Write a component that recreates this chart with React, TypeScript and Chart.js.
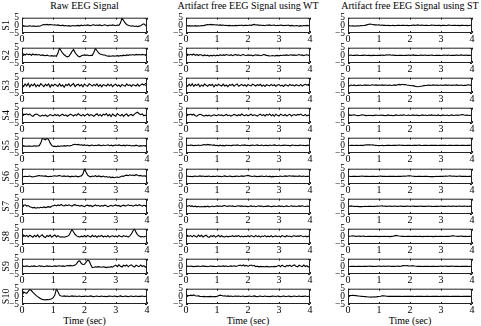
import { useEffect, useRef } from 'react';
import { Chart, registerables } from 'chart.js';

Chart.register(...registerables);

const FONT = "'Liberation Serif', 'Times New Roman', serif";

const SAMPLE_STEP = 0.05; // seconds between samples
const CHANNELS = ['S1', 'S2', 'S3', 'S4', 'S5', 'S6', 'S7', 'S8', 'S9', 'S10'];
const COLUMN_TITLES = ['Raw EEG Signal', 'Artifact free EEG Signal using WT', 'Artifact free EEG Signal using ST'];
const X_LABEL = 'Time (sec)';
const X_TICKS = [0, 1, 2, 3, 4];
const Y_TICKS = [-5, 0, 5];

// ---- Raw EEG ----
const RAW_S1 = [-0.3,-0.5,-0.4,-0.6,-0.5,-0.3,-0.6,-0.4,-0.5,-0.7,
 -0.4,-0.6,-0.3,0.2,0.5,0.4,0.6,0.3,0.5,0.4,
 0.2,0.4,0.1,0.3,0.0,-0.2,0.1,-0.3,-0.1,-0.4,
 -0.2,-0.5,-0.3,-0.1,-0.4,-0.2,0.0,-0.3,0.1,-0.2,
 0.2,-0.1,0.3,0.0,-0.2,0.2,0.4,-0.1,0.2,0.0,
 0.3,-0.2,0.1,0.4,0.0,-0.3,0.2,-0.1,0.3,0.1,
 -0.2,0.2,0.0,1.5,4.8,3.2,1.6,0.6,0.1,-0.3,
 -0.5,-0.3,-0.7,-0.4,-0.8,-0.5,-0.2,0.6,1.0,0.2,
 -1.0];
const RAW_S2 = [0.5,0.9,0.2,1.0,0.4,0.8,0.1,0.9,0.3,0.6,
 0.2,0.5,-0.1,0.3,0.0,-0.2,0.1,-0.3,-0.4,-0.2,
 -0.5,-0.3,-0.6,1.5,4.8,3.0,1.4,0.4,-0.4,-1.0,
 -0.6,0.8,2.6,3.8,1.8,0.4,-0.6,-1.0,-0.3,0.1,
 0.3,0.0,0.2,-0.2,0.1,0.0,2.0,4.5,3.0,1.6,
 0.9,0.5,0.3,0.2,-0.2,-0.5,-0.4,-0.6,-0.3,-0.5,
 -0.4,-0.2,-0.5,-0.1,-0.3,0.1,-0.2,0.3,0.0,0.4,
 0.2,0.5,0.1,0.6,0.3,0.5,0.2,0.6,0.4,0.3,
 0.5];
const RAW_S3 = [0.3,-0.8,0.9,-0.5,1.2,-1.0,0.6,-0.3,1.0,-0.9,
 0.4,-0.6,1.1,0.2,-0.8,0.7,-0.2,0.9,-1.1,0.5,
 -0.4,0.8,0.1,-0.7,1.0,-0.5,0.3,-1.2,0.6,-0.1,
 0.9,-0.6,0.4,1.1,-0.8,0.2,0.7,-0.4,0.5,-0.9,
 0.8,0.0,-0.6,1.0,0.3,-0.5,0.6,-0.2,0.9,-0.7,
 0.4,-1.0,0.5,0.1,-0.4,0.8,-0.3,0.6,-0.8,0.3,
 0.7,-0.5,0.2,-0.9,0.6,0.0,-0.6,0.9,-0.2,0.4,
 -0.7,0.5,0.1,-0.4,0.8,-0.6,0.3,0.9,0.2,1.1,
 1.6];
const RAW_S4 = [0.2,0.8,0.5,1.0,0.3,0.9,-0.2,-0.6,0.4,0.9,
 0.6,-0.3,-0.5,0.2,-0.4,0.3,-0.6,-0.2,0.5,0.1,
 -0.3,0.6,-0.1,0.4,-0.5,0.2,0.7,-0.2,0.3,-0.6,
 0.1,0.8,0.3,-0.4,0.5,-0.1,1.2,0.2,-0.3,0.6,
 -0.4,0.3,0.9,-0.2,0.5,0.0,-0.6,0.4,1.0,-0.3,
 0.6,-0.5,0.8,0.2,1.2,-0.4,0.6,-0.8,0.9,0.1,
 -0.6,1.1,0.3,-0.3,0.7,-0.7,0.4,0.9,-0.5,0.3,
 0.6,-0.2,0.8,1.6,2.1,1.0,0.4,0.9,-0.3,0.2,
 -0.5];
const RAW_S5 = [-0.3,-0.5,-0.4,-0.6,-0.5,-0.4,-0.6,-0.5,-0.3,-0.5,
 -0.4,-0.2,1.5,4.5,4.1,3.6,4.6,3.8,1.6,0.0,
 -0.7,-0.5,-0.9,-0.4,-0.7,-0.3,-0.6,-0.2,-0.5,-0.1,
 -0.4,-0.2,0.1,0.5,0.7,0.4,0.6,0.2,0.4,0.0,
 0.3,-0.1,0.2,-0.3,0.0,0.2,-0.2,0.1,-0.1,0.3,
 0.0,-0.2,0.2,-0.1,0.1,0.4,-0.2,0.1,-0.3,0.0,
 0.2,-0.1,0.3,0.0,-0.2,0.1,-0.3,0.2,-0.1,0.0,
 -0.4,-0.1,-0.3,0.1,-0.2,-0.5,-0.2,-0.4,-0.1,-0.6,
 -0.4];
const RAW_S6 = [0.0,-0.2,0.1,-0.1,0.0,0.2,-0.2,-0.4,-0.1,0.1,
 0.3,0.5,0.2,0.4,0.1,0.3,0.0,-0.2,0.1,-0.1,
 0.2,0.4,0.1,0.3,0.5,0.2,0.0,0.3,-0.1,0.2,
 0.0,-0.3,0.1,-0.2,0.2,0.0,-0.3,0.1,0.3,1.6,
 4.9,2.6,0.8,0.1,-0.3,0.2,-0.1,0.4,-0.2,0.3,
 0.0,-0.3,0.2,-0.4,-0.1,-0.6,-0.3,-0.8,-0.5,-0.9,
 -0.6,-0.4,-0.7,-0.2,0.2,0.0,0.5,0.8,0.4,1.0,
 0.6,0.9,0.5,1.1,0.7,0.3,0.6,0.1,0.4,0.2,
 0.5];
const RAW_S7 = [1.2,0.6,1.0,0.2,0.5,-0.3,-0.6,-1.0,-0.7,-1.2,
 -0.8,-1.1,-0.6,-0.9,-0.4,-0.8,-0.5,-0.2,-0.6,0.1,
 0.4,0.8,0.3,0.9,0.5,1.2,0.6,0.3,0.9,0.4,
 1.0,0.5,0.2,0.8,1.1,0.4,0.7,0.1,0.6,0.3,
 -0.2,0.5,0.8,0.2,0.6,-0.1,0.4,0.9,0.3,0.7,
 0.0,0.5,0.2,0.8,0.4,-0.2,0.3,0.7,0.1,0.5,
 0.9,0.3,0.6,-0.1,0.4,0.8,0.2,0.5,1.0,0.4,
 0.7,0.1,0.5,0.9,0.3,1.1,0.5,0.2,0.7,0.4,
 0.8];
const RAW_S8 = [0.2,0.9,0.0,0.6,-0.4,0.8,0.1,-0.6,0.7,-0.2,
 0.9,-0.5,0.3,1.0,-0.3,-0.8,0.6,-0.1,0.8,-0.6,
 0.2,0.9,-0.4,0.5,-0.2,-0.5,-0.3,-0.6,-0.2,0.0,
 0.6,2.5,4.6,2.8,1.2,0.3,-0.2,-0.4,0.1,-0.3,
 0.5,-0.4,0.6,0.0,-0.5,0.7,-0.2,0.4,-0.6,0.3,
 -0.1,0.6,-0.4,0.2,-0.3,0.5,-0.5,0.1,0.4,-0.2,
 0.3,-0.5,0.6,0.0,-0.4,0.5,-0.1,0.2,-0.5,0.3,
 1.5,3.5,4.9,2.6,0.9,0.2,-0.3,-0.1,-0.4,0.0,
 -0.3];
const RAW_S9 = [0.0,0.2,-0.1,0.3,0.1,-0.2,0.2,0.0,0.3,-0.1,
 0.1,0.4,0.0,0.2,-0.2,0.1,0.3,0.0,0.2,-0.1,
 0.1,0.3,0.0,0.2,0.4,0.1,0.3,0.0,0.2,0.5,
 0.3,0.6,0.2,0.5,0.8,1.8,3.4,3.6,1.8,1.2,
 1.4,2.8,4.0,3.5,1.0,-0.8,-0.6,-0.3,-0.5,-0.2,
 -0.4,-0.6,-0.3,-0.5,-0.8,-0.4,-0.6,-0.2,-0.5,0.3,
 0.8,-0.2,1.0,0.1,-0.4,0.7,0.2,0.9,-0.3,0.6,
 1.0,0.0,-0.5,0.8,0.3,-0.2,0.9,-0.1,0.5,-0.6,
 0.6];
const RAW_S10 = [0.0,2.8,2.4,2.0,3.2,4.5,3.8,2.6,1.6,0.6,
 -0.2,-0.9,-1.6,-2.0,-2.2,-2.3,-2.1,-2.2,-1.9,-1.6,
 -0.9,0.8,4.9,3.0,0.8,0.2,0.1,0.3,0.0,0.2,
 -0.1,0.1,0.3,0.0,0.2,-0.1,0.1,0.2,-0.2,0.1,
 0.0,0.2,-0.1,0.1,0.3,0.0,-0.2,0.1,0.2,-0.1,
 0.0,0.2,-0.1,0.1,-0.2,0.0,0.2,0.1,-0.1,0.2,
 0.0,-0.2,0.1,0.3,0.0,-0.1,0.2,0.0,-0.2,0.1,
 0.2,-0.1,0.0,0.2,-0.1,0.1,0.0,0.2,-0.1,0.1,
 0.0];

// ---- Wavelet-cleaned EEG ----
const WT_S1 = [-0.3,-0.4,-0.2,-0.5,-0.3,-0.4,-0.2,-0.5,-0.3,-0.4,
 -0.2,-0.3,0.0,0.3,0.5,0.4,0.6,0.3,0.5,0.2,
 0.4,0.1,0.3,0.0,0.2,-0.1,0.1,-0.2,0.0,-0.3,
 -0.1,-0.3,0.0,-0.2,0.1,-0.1,0.2,-0.2,0.0,0.1,
 -0.1,0.2,0.0,0.3,0.6,0.2,0.4,0.0,0.2,-0.1,
 0.1,-0.2,0.2,0.0,0.3,-0.1,0.1,0.2,-0.2,0.1,
 -0.1,0.2,0.0,-0.2,0.1,-0.1,0.2,-0.3,0.0,-0.2,
 -0.4,-0.1,-0.3,-0.5,-0.2,-0.4,-0.1,-0.3,0.0,-0.2,
 -0.1];
const WT_S2 = [0.4,0.8,0.1,0.7,0.2,0.9,0.0,0.6,-0.1,0.5,
 0.2,-0.3,0.3,-0.2,0.1,-0.5,0.0,-0.3,0.2,-0.4,
 0.1,-0.2,0.4,-0.1,0.3,0.0,0.5,0.2,-0.1,0.4,
 -0.2,0.3,0.6,0.0,0.4,-0.2,0.2,0.5,0.1,-0.1,
 0.3,0.0,0.2,-0.3,0.1,0.4,0.0,0.2,-0.2,0.1,
 0.5,0.3,0.0,-0.2,-0.4,-0.3,-0.1,-0.4,-0.2,0.0,
 -0.3,0.1,-0.1,0.2,0.0,0.3,-0.1,0.2,0.4,0.0,
 0.3,-0.1,0.2,0.5,0.1,0.3,-0.2,0.2,0.4,0.1,
 0.2];
const WT_S3 = [0.1,-0.6,0.8,-0.4,1.0,-0.7,0.5,-0.2,0.8,-0.8,
 0.3,-0.5,0.9,0.1,-0.6,0.6,-0.1,0.7,-0.9,0.4,
 -0.3,0.7,0.0,-0.5,0.8,-0.4,0.2,-0.9,0.5,0.0,
 0.7,-0.5,0.3,0.9,-0.6,0.1,0.6,-0.3,0.4,-0.7,
 0.6,0.0,-0.4,0.8,0.2,-0.4,0.5,-0.1,0.7,-0.5,
 0.3,-0.7,0.4,0.0,-0.3,0.6,-0.2,0.4,-0.6,0.2,
 0.5,-0.4,0.1,-0.7,0.4,0.0,-0.5,0.6,-0.1,0.3,
 -0.5,0.4,0.0,-0.3,0.6,-0.4,0.2,0.7,0.1,0.6,
 0.3];
const WT_S4 = [0.1,0.6,0.3,0.8,0.2,0.7,-0.2,-0.5,0.3,0.7,
 0.4,-0.2,-0.4,0.1,-0.3,0.2,-0.5,-0.1,0.4,0.0,
 -0.2,0.5,-0.1,0.3,-0.4,0.1,0.6,-0.2,0.2,-0.5,
 0.0,0.6,0.2,-0.3,0.4,-0.1,0.9,0.1,-0.2,0.5,
 -0.3,0.2,0.7,-0.2,0.4,0.0,-0.5,0.3,0.8,-0.2,
 0.5,-0.4,0.6,0.1,0.9,-0.3,0.5,-0.6,0.7,0.0,
 -0.5,0.8,0.2,-0.2,0.5,-0.5,0.3,0.7,-0.4,0.2,
 0.5,-0.2,0.6,0.3,0.8,0.1,-0.2,0.6,-0.3,0.2,
 -0.4];
const WT_S5 = [-0.2,0.1,-0.1,0.2,0.0,-0.2,0.1,-0.1,0.2,-0.1,
 0.1,0.3,0.5,0.2,0.6,0.3,0.4,0.1,0.3,-0.1,
 0.0,-0.3,0.1,-0.2,0.0,-0.3,0.2,-0.1,0.1,-0.2,
 0.0,0.2,-0.1,0.3,0.1,-0.2,0.2,0.0,0.3,-0.1,
 0.1,-0.2,0.0,0.2,-0.1,0.1,0.3,-0.1,0.0,0.2,
 -0.2,0.1,0.0,-0.2,0.2,-0.1,0.1,0.3,0.0,-0.1,
 0.2,-0.2,0.1,0.0,0.2,-0.1,0.1,-0.3,0.0,0.2,
 -0.1,0.1,-0.2,0.0,0.2,-0.1,0.1,-0.2,0.0,0.1,
 -0.1];
const WT_S6 = [0.0,0.2,-0.1,0.1,-0.2,0.0,0.2,-0.1,0.1,0.3,
 0.0,0.2,-0.1,0.1,0.0,0.2,-0.2,0.1,0.0,-0.1,
 0.2,0.0,0.1,-0.2,0.1,0.3,0.0,-0.1,0.2,0.0,
 -0.2,0.1,0.0,0.2,-0.1,0.1,0.3,0.0,0.2,0.4,
 0.6,0.3,0.1,-0.1,0.2,0.0,-0.2,0.1,0.0,0.2,
 -0.1,0.0,0.2,-0.2,0.1,-0.3,0.0,-0.2,0.1,-0.1,
 0.0,0.2,-0.1,0.1,0.3,0.0,0.2,0.4,0.1,0.3,
 0.0,0.2,-0.1,0.3,0.1,0.0,0.2,-0.1,0.1,0.0,
 0.2];
const WT_S7 = [0.4,0.1,0.5,0.0,0.3,-0.2,0.1,-0.3,0.0,-0.4,
 -0.1,-0.3,0.0,-0.2,0.1,-0.3,-0.1,0.2,-0.2,0.1,
 0.3,0.0,0.2,-0.1,0.3,0.5,0.1,0.0,0.4,0.1,
 0.3,-0.1,0.0,0.2,0.4,0.0,0.3,-0.1,0.2,0.0,
 -0.2,0.1,0.3,-0.1,0.2,-0.2,0.1,0.4,0.0,0.2,
 -0.2,0.1,0.0,0.3,0.1,-0.2,0.0,0.2,-0.1,0.1,
 0.3,0.0,0.2,-0.2,0.1,0.3,-0.1,0.1,0.4,0.0,
 0.2,-0.1,0.1,0.3,0.0,0.4,0.1,-0.1,0.2,0.0,
 0.3];
const WT_S8 = [0.2,0.7,0.0,0.5,-0.3,0.6,0.1,-0.5,0.8,-0.1,
 0.7,-0.4,0.2,0.8,-0.2,-0.6,0.5,-0.1,0.6,-0.5,
 0.1,0.7,-0.3,0.4,-0.2,-0.4,0.2,-0.3,0.1,-0.1,
 0.4,-0.2,0.3,0.0,0.5,-0.3,0.2,-0.4,0.1,-0.2,
 0.4,-0.3,0.5,0.0,-0.4,0.6,-0.2,0.3,-0.5,0.2,
 -0.1,0.5,-0.3,0.1,-0.2,0.4,-0.4,0.1,0.3,-0.2,
 0.2,-0.4,0.5,0.0,-0.3,0.4,-0.1,0.2,-0.4,0.2,
 0.4,-0.1,0.3,0.0,0.5,0.1,-0.2,0.2,-0.3,0.1,
 -0.2];
const WT_S9 = [0.0,0.2,-0.1,0.2,0.0,-0.2,0.1,0.0,0.2,-0.1,
 0.1,0.3,0.0,0.1,-0.2,0.1,0.2,0.0,0.1,-0.1,
 0.0,0.2,0.0,0.1,0.3,0.0,0.2,-0.1,0.1,0.3,
 0.1,0.4,0.0,0.2,0.5,0.8,0.3,0.9,0.2,0.7,
 0.0,0.6,0.9,0.3,0.7,-0.2,0.1,-0.3,0.0,-0.2,
 -0.1,-0.3,0.0,-0.2,-0.4,-0.1,-0.3,0.0,-0.2,0.3,
 0.7,-0.2,0.8,0.1,-0.3,0.6,0.2,0.8,-0.2,0.5,
 0.9,0.0,-0.4,0.7,0.2,-0.2,0.8,-0.1,0.4,-0.5,
 0.4];
const WT_S10 = [0.0,0.6,0.4,0.8,0.5,0.9,0.4,0.2,0.3,0.0,
 -0.1,-0.2,0.0,-0.3,-0.1,-0.2,0.0,-0.3,-0.1,-0.2,
 0.0,0.4,0.8,0.5,0.2,0.4,0.1,0.3,0.0,0.2,
 -0.1,0.1,0.2,0.0,0.2,-0.1,0.1,0.2,-0.2,0.1,
 0.0,0.2,-0.1,0.1,0.3,0.0,-0.2,0.1,0.2,-0.1,
 0.0,0.2,-0.1,0.1,-0.2,0.0,0.2,0.1,-0.1,0.2,
 0.0,-0.2,0.1,0.2,0.0,-0.1,0.2,0.0,-0.2,0.1,
 0.2,-0.1,0.0,0.2,-0.1,0.1,0.0,0.2,-0.1,0.1,
 0.0];

// ---- S-transform-cleaned EEG ----
const ST_S1 = [-0.2,-0.3,-0.4,-0.3,-0.5,-0.4,-0.3,-0.4,-0.2,-0.3,
 -0.1,0.0,0.3,0.6,0.9,0.7,0.5,0.3,0.4,0.2,
 0.3,0.1,0.2,0.0,0.1,-0.1,0.0,-0.2,-0.1,0.0,
 -0.2,-0.1,0.0,0.1,-0.1,0.0,0.1,-0.1,0.0,-0.2,
 -0.1,0.0,0.2,0.0,0.1,0.3,0.1,0.0,0.2,-0.1,
 0.0,0.1,-0.1,0.0,0.2,0.1,0.0,-0.1,0.1,0.0,
 -0.2,0.0,0.1,-0.1,0.0,0.2,0.1,-0.1,0.0,0.1,
 -0.1,0.0,-0.2,0.0,0.1,-0.1,0.0,-0.2,-0.1,0.0,
 -0.1];
const ST_S2 = [0.1,0.0,0.2,-0.1,0.1,0.0,0.2,0.0,-0.1,0.1,
 0.0,0.2,-0.1,0.1,0.0,-0.2,0.0,0.1,-0.1,0.0,
 0.1,0.0,0.2,0.0,0.1,0.3,0.2,0.4,0.1,0.2,
 0.0,0.1,-0.1,0.0,0.1,0.0,-0.1,0.1,0.0,0.2,
 0.0,0.1,0.3,0.0,0.1,-0.1,0.0,0.2,0.0,0.1,
 0.2,-0.1,0.0,0.1,0.2,0.0,-0.1,0.0,0.1,0.0,
 -0.1,0.0,0.2,0.1,0.0,0.2,-0.1,0.0,0.1,0.0,
 0.2,0.0,0.1,0.3,0.1,0.0,0.2,0.0,0.1,0.0,
 0.1];
const ST_S3 = [0.0,-0.3,0.2,-0.1,0.3,-0.2,0.1,0.0,0.2,-0.1,
 0.1,0.3,0.0,0.2,-0.1,0.2,0.4,0.1,0.3,0.0,
 0.2,0.1,0.3,0.0,0.2,0.1,0.0,0.2,-0.1,0.1,
 0.3,0.0,0.4,0.6,0.3,0.7,0.4,0.5,0.2,0.1,
 -0.1,-0.3,-0.2,-0.5,-0.7,-0.9,-0.8,-0.6,-0.4,-0.2,
 -0.1,0.0,0.2,0.0,0.1,0.3,0.1,0.2,0.0,0.1,
 0.2,0.0,0.1,0.3,0.0,0.2,0.1,0.0,0.2,0.1,
 0.3,0.0,0.1,0.2,-0.1,0.1,0.0,0.2,0.4,0.1,
 0.5];
const ST_S4 = [0.1,0.3,0.0,0.2,0.4,0.1,-0.1,-0.2,0.1,0.3,
 0.2,0.0,-0.2,0.1,-0.1,0.1,-0.2,0.0,0.2,0.1,
 -0.1,0.2,0.0,0.1,-0.2,0.0,0.3,-0.1,0.1,-0.2,
 0.0,0.3,0.1,-0.1,0.2,0.0,0.4,0.1,-0.1,0.2,
 -0.1,0.1,0.3,-0.1,0.2,0.0,-0.2,0.1,0.3,-0.1,
 0.2,-0.2,0.2,0.0,0.3,-0.1,0.2,-0.2,0.3,0.0,
 -0.2,0.3,0.1,-0.1,0.2,-0.2,0.1,0.3,-0.1,0.1,
 0.2,0.0,0.2,0.3,0.5,0.2,0.0,0.2,-0.1,0.1,
 -0.1];
const ST_S5 = [0.0,-0.1,0.1,0.0,-0.1,0.0,0.1,-0.1,0.0,0.1,
 0.0,0.2,0.3,0.4,0.3,0.2,0.3,0.1,0.0,-0.1,
 -0.2,-0.1,0.0,-0.2,-0.1,0.0,0.1,0.0,-0.1,0.0,
 0.1,0.0,0.1,0.2,0.1,0.0,0.1,-0.1,0.0,0.1,
 0.0,-0.1,0.0,0.1,0.0,0.1,0.2,0.0,-0.1,0.0,
 0.1,0.0,-0.1,0.0,0.1,0.0,0.1,0.0,-0.1,0.0,
 0.1,0.0,0.0,0.1,-0.1,0.0,0.1,0.0,-0.1,0.0,
 0.1,0.0,-0.1,0.0,0.1,0.0,-0.1,0.0,0.1,0.0,
 0.0];
const ST_S6 = [0.0,0.1,-0.1,0.0,0.1,0.0,-0.1,0.0,0.1,0.2,
 0.1,0.0,0.1,0.0,-0.1,0.0,0.1,0.0,-0.1,0.0,
 0.1,0.2,0.0,0.1,0.0,-0.1,0.0,0.1,0.0,0.1,
 0.0,-0.1,0.0,0.1,0.0,0.1,0.2,0.1,0.2,0.3,
 0.4,0.2,0.1,0.0,-0.1,0.0,0.1,0.0,-0.1,0.0,
 0.1,0.0,-0.1,-0.2,-0.1,-0.2,-0.1,0.0,-0.1,0.0,
 0.1,0.0,0.1,0.2,0.1,0.2,0.3,0.1,0.2,0.1,
 0.0,0.1,0.2,0.0,0.1,0.0,0.1,-0.1,0.0,0.1,
 0.0];
const ST_S7 = [0.2,0.1,0.3,0.1,0.0,-0.1,0.0,-0.2,-0.1,-0.2,
 -0.1,0.0,-0.1,0.0,0.1,0.0,-0.1,0.0,0.1,0.2,
 0.1,0.2,0.3,0.1,0.2,0.0,0.1,0.2,0.0,0.1,
 0.2,0.1,0.0,0.1,0.2,0.0,0.1,0.0,0.2,0.1,
 0.0,0.1,0.2,0.0,0.1,0.0,0.1,0.2,0.0,0.1,
 0.0,0.1,0.2,0.1,0.0,-0.1,0.0,0.1,0.0,0.1,
 0.2,0.0,0.1,0.0,0.1,0.2,0.1,0.0,0.2,0.1,
 0.0,0.1,0.2,0.1,0.0,0.2,0.1,0.0,0.1,0.2,
 0.1];
const ST_S8 = [0.3,0.1,0.2,0.4,0.2,0.0,0.1,0.2,0.0,0.1,
 0.2,0.0,-0.1,0.1,0.0,0.1,-0.1,0.0,0.1,0.0,
 -0.2,0.0,-0.1,0.1,0.0,-0.1,0.0,-0.2,0.0,0.1,
 0.3,0.6,0.4,0.2,0.1,0.0,0.1,-0.1,0.0,0.1,
 0.0,-0.1,0.0,0.1,0.0,-0.1,0.1,0.0,-0.2,0.0,
 -0.1,0.0,0.1,-0.1,0.0,-0.2,0.0,0.1,-0.1,0.0,
 0.1,0.0,-0.1,0.0,0.1,0.0,0.1,0.3,0.4,0.2,
 0.1,0.0,0.1,0.2,0.0,0.1,0.0,-0.1,0.0,0.1,
 0.0];
const ST_S9 = [0.0,-0.1,0.0,0.1,0.0,-0.1,0.0,0.1,0.0,-0.1,
 0.0,0.1,0.0,0.1,0.2,0.0,0.1,-0.1,0.0,0.1,
 0.2,0.0,0.1,0.2,0.0,0.1,0.2,0.1,0.0,0.1,
 0.0,0.1,0.2,0.0,0.1,0.3,0.5,0.4,0.5,0.3,
 0.2,0.3,0.4,0.2,0.1,0.0,0.1,0.0,-0.1,0.0,
 0.1,0.0,0.1,-0.1,0.0,0.1,0.0,-0.1,0.0,0.1,
 0.2,0.0,0.1,0.2,0.0,0.1,0.0,0.2,0.1,0.0,
 0.1,0.0,-0.1,0.0,0.1,0.0,0.1,0.0,-0.1,0.0,
 0.1];
const ST_S10 = [0.3,0.5,0.6,0.7,0.6,0.5,0.3,0.2,0.1,0.0,
 -0.1,-0.2,-0.3,-0.4,-0.4,-0.5,-0.4,-0.3,-0.4,-0.2,
 -0.1,0.1,0.4,0.3,0.2,0.1,0.0,0.1,0.0,0.1,
 0.0,0.1,0.0,0.1,0.0,-0.1,0.0,0.1,0.0,0.1,
 0.0,0.1,0.0,-0.1,0.0,0.1,0.0,0.1,0.0,-0.1,
 0.0,0.1,0.0,-0.1,0.0,0.1,0.0,0.1,0.0,-0.1,
 0.0,0.1,0.0,0.0,0.1,0.0,-0.1,0.0,0.1,0.0,
 0.0,0.1,0.0,-0.1,0.0,0.1,0.0,0.0,0.1,0.0,
 0.0];

const RAW = [RAW_S1, RAW_S2, RAW_S3, RAW_S4, RAW_S5, RAW_S6, RAW_S7, RAW_S8, RAW_S9, RAW_S10];
const WT = [WT_S1, WT_S2, WT_S3, WT_S4, WT_S5, WT_S6, WT_S7, WT_S8, WT_S9, WT_S10];
const ST = [ST_S1, ST_S2, ST_S3, ST_S4, ST_S5, ST_S6, ST_S7, ST_S8, ST_S9, ST_S10];
const COLUMNS = [RAW, WT, ST];

// panel geometry (plot-area boxes)
const COL_LEFT = [22, 186, 348];
const COL_WIDTH = [125, 124, 124];
const ROW_TOP = 15;
const ROW_PITCH = 30.1;
const PLOT_H = 18;
const AXIS_W = 22;
const PAD_T = 6;
const PAD_R = 6;
const X_AXIS_H = 12;

const minusLabel = (v: number) => (v < 0 ? '\u2212' + Math.abs(v) : String(v));

// boxed axes with inward tick marks
const framePlugin = {
  id: 'frame',
  afterDatasetsDraw(chart: any) {
    const { ctx, chartArea: a, scales } = chart;
    ctx.save();
    ctx.strokeStyle = '#222';
    ctx.lineWidth = 1;
    ctx.beginPath();
    ctx.rect(a.left + 0.5, a.top + 0.5, a.right - a.left - 1, a.bottom - a.top - 1);
    for (const v of X_TICKS) {
      const x = Math.round(scales.x.getPixelForValue(v)) + 0.5;
      ctx.moveTo(x, a.bottom); ctx.lineTo(x, a.bottom - 2);
      ctx.moveTo(x, a.top); ctx.lineTo(x, a.top + 2);
    }
    for (const v of Y_TICKS) {
      const y = Math.round(scales.y.getPixelForValue(v)) + 0.5;
      ctx.moveTo(a.left, y); ctx.lineTo(a.left + 2, y);
      ctx.moveTo(a.right, y); ctx.lineTo(a.right - 2, y);
    }
    ctx.stroke();
    ctx.restore();
  },
};

function Panel({ col, row }: { col: number; row: number }) {
  const ref = useRef<HTMLCanvasElement>(null);
  const plotW = COL_WIDTH[col];
  const plotTop = Math.round(ROW_TOP + row * ROW_PITCH);
  const width = AXIS_W + plotW + PAD_R;
  const height = PAD_T + PLOT_H + X_AXIS_H;

  useEffect(() => {
    const values = COLUMNS[col][row];
    const points = values.map((y, i) => ({ x: i * SAMPLE_STEP, y }));
    const chart = new Chart(ref.current!, {
      type: 'line',
      data: {
        datasets: [{
          data: points,
          borderColor: '#000',
          borderWidth: 1.1,
          pointRadius: 0,
          tension: 0,
        }],
      },
      options: {
        responsive: false,
        animation: false,
        devicePixelRatio: 1,
        events: [],
        layout: { padding: { top: PAD_T, right: PAD_R, left: 0, bottom: 0 } },
        plugins: { legend: { display: false }, tooltip: { enabled: false } },
        scales: {
          x: {
            type: 'linear',
            min: 0,
            max: 4,
            afterBuildTicks: (s: any) => { s.ticks = X_TICKS.map((value) => ({ value })); },
            ticks: { font: { family: FONT, size: 10 }, color: '#000', padding: 0, maxRotation: 0, autoSkip: false },
            grid: { display: false, drawTicks: false },
            border: { display: false },
            afterFit: (s: any) => { s.height = X_AXIS_H; },
          },
          y: {
            type: 'linear',
            min: -5,
            max: 5,
            afterBuildTicks: (s: any) => { s.ticks = Y_TICKS.map((value) => ({ value })); },
            ticks: { font: { family: FONT, size: 9.5 }, color: '#000', padding: 3, autoSkip: false, callback: (v: any) => minusLabel(Number(v)) },
            grid: { display: false, drawTicks: false },
            border: { display: false },
            title: {
              display: col === 0,
              text: CHANNELS[row],
              color: '#000',
              font: { family: FONT, size: 10 },
              padding: { top: 0, bottom: 0 },
            },
            afterFit: (s: any) => { s.width = AXIS_W; },
          },
        },
      },
      plugins: [framePlugin],
    });
    return () => chart.destroy();
  }, [col, row]);

  return (
    <canvas
      ref={ref}
      width={width}
      height={height}
      style={{ position: 'absolute', left: COL_LEFT[col] - AXIS_W, top: plotTop - PAD_T, width, height }}
    />
  );
}

export default function App() {
  const lastTop = Math.round(ROW_TOP + (CHANNELS.length - 1) * ROW_PITCH);
  return (
    <div style={{ position: 'absolute', left: 0, top: 0, width: 481, height: 326, background: '#fff', fontFamily: FONT, color: '#000' }}>
      {COLUMN_TITLES.map((t, c) => (
        <div key={'t' + c} style={{ position: 'absolute', left: COL_LEFT[c] - 10, width: COL_WIDTH[c] + 20, top: 0, lineHeight: '12px', fontSize: 10, textAlign: 'center', whiteSpace: 'nowrap' }}>{t}</div>
      ))}
      {COLUMN_TITLES.map((_, c) => (
        <div key={'x' + c} style={{ position: 'absolute', left: COL_LEFT[c], width: COL_WIDTH[c], top: lastTop + PLOT_H + 11, lineHeight: '12px', fontSize: 10, textAlign: 'center', whiteSpace: 'nowrap' }}>{X_LABEL}</div>
      ))}
      {COLUMNS.map((_, c) => CHANNELS.map((_, r) => <Panel key={c + '-' + r} col={c} row={r} />))}
    </div>
  );
}
